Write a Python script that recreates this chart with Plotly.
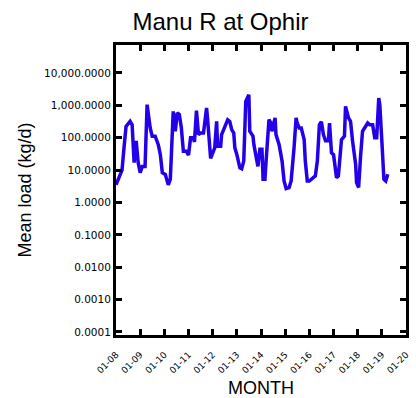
import plotly.graph_objects as go

# Mean monthly load of Manu R at Ophir (kg/d)
dates = [
    "2008-01-01", "2008-04-01", "2008-05-01", "2008-06-01", "2008-08-01", "2008-09-01",
    "2008-10-01", "2008-11-01", "2008-12-01", "2009-01-01", "2009-02-01", "2009-03-15",
    "2009-04-15", "2009-06-01", "2009-07-01", "2009-08-15", "2009-10-01", "2009-11-01",
    "2009-12-01", "2010-01-15", "2010-03-01", "2010-04-01", "2010-05-15", "2010-06-15",
    "2010-07-15", "2010-08-15", "2010-09-15", "2010-10-15", "2010-12-01", "2011-01-01",
    "2011-02-01", "2011-03-15", "2011-04-01", "2011-05-01", "2011-06-01", "2011-07-01",
    "2011-08-15", "2011-10-01", "2011-10-15", "2011-12-01", "2012-02-01", "2012-03-01",
    "2012-03-15", "2012-05-01", "2012-05-15", "2012-07-01", "2012-08-15", "2012-09-15",
    "2012-10-15", "2012-11-15", "2012-12-01", "2013-01-01", "2013-02-15", "2013-03-15",
    "2013-04-15", "2013-05-15", "2013-07-01", "2013-07-15", "2013-09-01", "2013-09-15",
    "2013-11-01", "2013-11-15", "2013-12-15", "2014-01-15", "2014-02-01", "2014-03-01",
    "2014-03-15", "2014-05-01", "2014-06-01", "2014-06-15", "2014-08-01", "2014-08-15",
    "2014-10-01", "2014-11-15", "2014-12-15", "2015-01-15", "2015-03-01", "2015-04-01",
    "2015-05-15", "2015-06-15", "2015-07-01", "2015-08-01", "2015-09-01", "2015-10-15",
    "2015-11-01", "2015-12-01", "2016-01-01", "2016-02-15", "2016-04-01", "2016-05-01",
    "2016-06-01", "2016-07-01", "2016-08-01", "2016-09-01", "2016-10-15", "2016-11-01",
    "2016-12-01", "2017-01-01", "2017-02-15", "2017-03-15", "2017-04-15", "2017-05-01",
    "2017-06-15", "2017-07-01", "2017-08-15", "2017-09-15", "2017-10-15", "2017-12-01",
    "2017-12-15", "2018-01-15", "2018-02-15", "2018-03-15", "2018-04-15", "2018-06-01",
    "2018-07-01", "2018-08-15", "2018-09-15", "2018-10-15", "2018-11-15", "2018-12-01",
    "2019-01-01", "2019-02-01", "2019-03-01", "2019-04-01",
]
mean_load = [
    3.5, 10, 49, 225, 320, 250,
    17, 80, 17, 8.3, 13, 13,
    1050, 200, 112, 112, 61, 30,
    8.3, 7.4, 3.5, 5.2, 650, 158,
    580, 520, 200, 38, 38, 29,
    100, 100, 74, 690, 125, 140,
    140, 830, 410, 23, 49, 320,
    55, 55, 125, 200, 360, 320,
    178, 140, 49, 30, 11.7, 11,
    19, 1330, 2130, 158, 112, 61,
    15, 13, 44, 44, 5.2, 5.2,
    15, 360, 285, 158, 410, 125,
    61, 19, 4.6, 2.7, 2.9, 4.6,
    49, 410, 285, 200, 200, 87,
    19, 4.6, 4.6, 5.5, 6.6, 19,
    250, 310, 125, 80, 80, 285,
    34, 30, 5.8, 6.6, 30, 87,
    112, 930, 410, 320, 80, 15,
    4.1, 2.9, 30, 158, 200, 285,
    250, 250, 100, 100, 1670, 1050,
    80, 5.2, 4.6, 7.4,
]

x_range = ["2008-01-01", "2020-01-01"]
y_range_log = [-4.093, 4.864]

fig = go.Figure(
    go.Scatter(
        x=dates,
        y=mean_load,
        mode="lines",
        line=dict(color="#2200ea", width=3.5),
        showlegend=False,
    )
)

axis_common = dict(
    showline=True,
    linecolor="black",
    linewidth=3,
    mirror="ticks",
    ticks="inside",
    ticklen=6,
    tickwidth=2.5,
    tickcolor="black",
    showgrid=False,
    zeroline=False,
    automargin=False,
)

fig.update_xaxes(
    **axis_common,
    type="date",
    range=x_range,
    tick0="2008-01-01",
    dtick="M12",
    tickformat="%m-%y",
    tickangle=-45,
    ticklabelstandoff=8,
    tickfont=dict(family="DejaVu Sans", size=9, color="black"),
    title=dict(text="MONTH", font=dict(family="Liberation Sans", size=18, color="black"), standoff=14),
)

fig.update_yaxes(
    **axis_common,
    type="log",
    range=y_range_log,
    dtick=1,
    tickformat=",.4f",
    tickfont=dict(family="DejaVu Sans", size=10.5, color="black"),
    title=dict(text="Mean load (kg/d)", font=dict(family="Liberation Sans", size=18, color="black"), standoff=8),
)

fig.update_layout(
    width=416,
    height=398,
    margin=dict(l=116, r=10, t=45, b=63),
    paper_bgcolor="white",
    plot_bgcolor="white",
    title=dict(
        text="Manu R at Ophir",
        font=dict(family="Liberation Sans", size=24, color="black"),
        x=0.53,
        xanchor="center",
        y=0.945,
        yanchor="middle",
    ),
)

fig.write_html("out.html")
